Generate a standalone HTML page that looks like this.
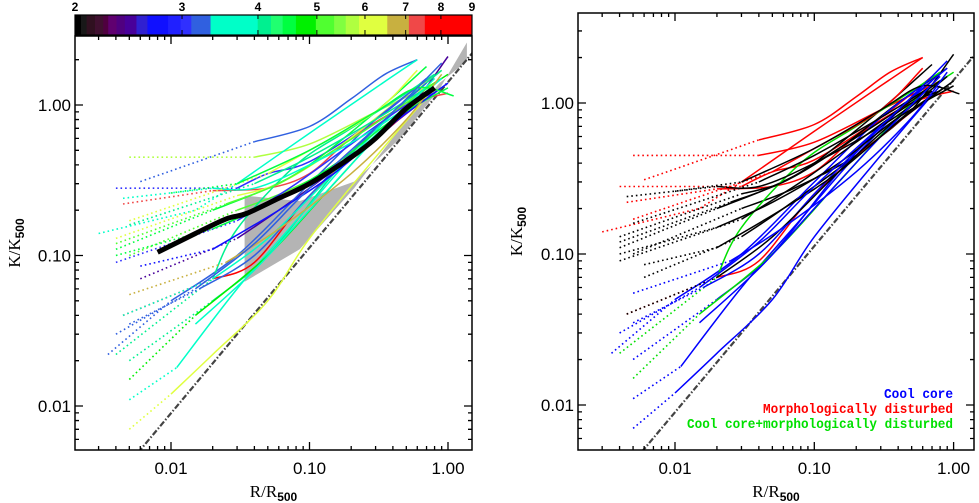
<!DOCTYPE html>
<html><head><meta charset="utf-8">
<style>
html,body{margin:0;padding:0;background:#fff;}
svg{display:block;font-family:"Liberation Sans",sans-serif;}
</style></head>
<body>
<svg id="fig" width="979" height="503" viewBox="0 0 979 503" xmlns="http://www.w3.org/2000/svg">
<defs>
<clipPath id="clipL"><rect x="75" y="36" width="397" height="414"/></clipPath>
<clipPath id="clipR"><rect x="578" y="13" width="396" height="437"/></clipPath>
</defs>
<g id="left"></g>
<g id="right"></g>
</svg>
<script>
// ---- data ----
const profTemps = [3.2,5.8,3.1,7.5,3.5,4.5,6.5,5.0,2.5,8.0,3.2,4.0,6.3,3.9,4.8,4.2,3.3,3.7,3.0,5.3,3.8,6.0,4.1,3.6,4.6,2.8,4.4,7.0,3.2];
const profCats = ['md','md','md','md','md','none','none','none','none','md','cc','cc','cc','cc','ccmd','ccmd','cc','none','none','none','none','md','none','cc','none','none','none','cc','cc'];
const profDotted = [2,2,2,2,3,2,2,2,2,2,2,2,2,2,2,2,2,2,2,2,2,2,2,1,2,2,2,2,2];
const profPoints = [
 [[0.006,0.31],[0.04,0.57],[0.1,0.72],[0.2,1.1],[0.35,1.6],[0.6,2.0]],
 [[0.005,0.45],[0.04,0.45],[0.1,0.55],[0.3,0.9],[0.8,1.4]],
 [[0.004,0.28],[0.03,0.28],[0.05,0.35],[0.1,0.42],[0.3,0.8],[0.7,1.5]],
 [[0.0045,0.22],[0.02,0.27],[0.05,0.28],[0.1,0.35],[0.2,0.6],[0.5,1.0],[1.0,1.2]],
 [[0.003,0.14],[0.015,0.2],[0.03,0.3],[0.1,0.65],[0.3,1.3],[0.6,2.0]],
 [[0.004,0.11],[0.02,0.2],[0.05,0.28],[0.1,0.4],[0.3,0.9],[0.7,1.8]],
 [[0.004,0.13],[0.03,0.25],[0.06,0.3],[0.15,0.5],[0.4,1.0],[0.9,1.7]],
 [[0.005,0.1],[0.03,0.2],[0.07,0.27],[0.2,0.45],[0.5,0.9],[0.9,1.3]],
 [[0.006,0.07],[0.03,0.13],[0.06,0.2],[0.2,0.45],[0.5,0.9],[1.0,2.1]],
 [[0.0045,0.04],[0.02,0.07],[0.04,0.09],[0.1,0.25],[0.3,0.6],[0.6,1.0]],
 [[0.0035,0.022],[0.01,0.05],[0.03,0.1],[0.1,0.3],[0.3,0.8],[0.8,1.6]],
 [[0.005,0.02],[0.02,0.05],[0.05,0.1],[0.15,0.35],[0.4,0.9],[0.9,1.7]],
 [[0.005,0.007],[0.01,0.012],[0.02,0.022],[0.05,0.05],[0.1,0.13],[0.3,0.45],[0.8,1.3]],
 [[0.005,0.011],[0.011,0.018],[0.03,0.06],[0.08,0.17],[0.2,0.45],[0.6,1.3]],
 [[0.005,0.015],[0.015,0.04],[0.05,0.1],[0.15,0.3],[0.5,1.0],[1.0,1.6]],
 [[0.004,0.022],[0.02,0.07],[0.03,0.15],[0.08,0.4],[0.2,0.7],[0.5,1.2],[0.8,1.6]],
 [[0.005,0.035],[0.016,0.06],[0.04,0.1],[0.1,0.25],[0.3,0.7],[0.7,1.4]],
 [[0.0045,0.04],[0.02,0.07],[0.05,0.13],[0.15,0.35],[0.4,0.8],[0.9,1.5]],
 [[0.004,0.09],[0.03,0.17],[0.08,0.3],[0.2,0.55],[0.5,1.0],[0.8,1.2]],
 [[0.004,0.12],[0.025,0.22],[0.06,0.3],[0.15,0.5],[0.4,0.9],[0.8,1.4]],
 [[0.0045,0.24],[0.02,0.28],[0.04,0.28],[0.1,0.4],[0.3,0.7],[0.7,1.2]],
 [[0.005,0.17],[0.05,0.35],[0.1,0.5],[0.3,0.9],[0.6,1.7]],
 [[0.005,0.16],[0.04,0.3],[0.1,0.45],[0.3,0.8],[0.7,1.3]],
 [[0.015,0.035],[0.04,0.08],[0.1,0.2],[0.3,0.6],[0.8,1.5]],
 [[0.004,0.1],[0.02,0.15],[0.05,0.22],[0.15,0.4],[0.4,0.8],[1.0,1.3]],
 [[0.006,0.085],[0.02,0.11],[0.06,0.2],[0.15,0.35],[0.4,0.75],[1.0,1.4]],
 [[0.01,0.26],[0.03,0.3],[0.1,0.5],[0.3,0.9],[0.6,1.3],[1.1,1.15]],
 [[0.005,0.055],[0.025,0.09],[0.06,0.15],[0.2,0.35],[0.5,0.8],[0.9,1.6]],
 [[0.004,0.03],[0.015,0.06],[0.04,0.12],[0.1,0.28],[0.4,0.9],[0.9,1.9]]
];
const meanR = [0.008,0.015,0.025,0.035,0.06,0.1,0.2,0.3,0.5,0.8];
const meanK = [0.105,0.14,0.175,0.19,0.24,0.3,0.45,0.6,0.95,1.3];
const bandR = [0.034,0.085,0.21,0.45,0.87,1.37];
const bandHi = [0.25,0.23,0.31,0.6,1.28,2.6];
const bandLo = [0.067,0.11,0.28,0.7,1.4,1.95];
const cbTickLabels = [2,3,4,5,6,7,8,9];
const cbEdges = [0,18,35,60,85,100,125,150,185,218,280,318,350,408,550,590,625,665,725,780,815,855,940,1005,1053,1195];
const cbColors = ['#000','#181818','#301020','#401030','#500040','#600070','#500080','#48009a','#3020d0','#1010ff','#2020ff','#3030ff','#3060e0','#00ffc8','#00f090','#20ff70','#00ff40','#00f000','#50ff30','#80ff40','#b0ff40','#e0ff40','#c8b040','#f04848','#ff0000'];
const catColors = {cc:'#0000ff', md:'#ff0000', ccmd:'#00e000', none:'#000000'};
const xTickVals = [0.01,0.1,1];
const xTickLabels = ['0.01','0.10','1.00'];
const yTickVals = [0.01,0.1,1];
const yTickLabels = ['0.01','0.10','1.00'];

// ---- helpers ----
const NS='http://www.w3.org/2000/svg';
function mk(parent,tag,attrs){const e=document.createElementNS(NS,tag);for(const k in attrs)e.setAttribute(k,attrs[k]);parent.appendChild(e);return e;}
const L10=Math.log10;
function makeAxes(p){
  p.x=r=>p.x01+(L10(r)+2)*p.dx;
  p.y=k=>p.y1-L10(k)*p.dy;
  return p;
}
function colorOfT(T){
  const f=(L10(T)-L10(2))/(L10(9)-L10(2))*1195;
  for(let i=0;i<cbColors.length;i++){if(f<=cbEdges[i+1])return cbColors[i];}
  return cbColors[cbColors.length-1];
}
function path(ax,pts){return pts.map((p,i)=>(i?'L':'M')+ax.x(p[0]).toFixed(1)+' '+ax.y(p[1]).toFixed(1)).join(' ');}
function smooth(ax,pts){
  const P=pts.map(p=>[ax.x(p[0]),ax.y(p[1])]);
  if(P.length<3)return 'M'+P.map(p=>p[0].toFixed(1)+' '+p[1].toFixed(1)).join(' L');
  let d='M'+P[0][0].toFixed(1)+' '+P[0][1].toFixed(1);
  for(let i=0;i<P.length-1;i++){
    const p0=P[Math.max(0,i-1)],p1=P[i],p2=P[i+1],p3=P[Math.min(P.length-1,i+2)];
    const c1=[p1[0]+(p2[0]-p0[0])/6,p1[1]+(p2[1]-p0[1])/6];
    const c2=[p2[0]-(p3[0]-p1[0])/6,p2[1]-(p3[1]-p1[1])/6];
    d+=` C${c1[0].toFixed(1)} ${c1[1].toFixed(1)} ${c2[0].toFixed(1)} ${c2[1].toFixed(1)} ${p2[0].toFixed(1)} ${p2[1].toFixed(1)}`;
  }
  return d;
}

function drawPanel(g,ax,clip,colorFn,showMean){
  const pg=mk(g,'g',{'clip-path':'url(#'+clip+')'});
  
  
  if(showMean){
    const pts=bandR.map((r,i)=>[r,bandHi[i]]).concat(bandR.map((r,i)=>[r,bandLo[i]]).reverse());
    const b=mk(pg,'path',{d:path(ax,pts)+'Z',fill:'#b4b4b4',stroke:'none'});
    
    
  }
  const br=[0.004,1.5];
  const bl=mk(pg,'path',{d:path(ax,br.map(r=>[r,1.42*Math.pow(r,1.1)])),stroke:'#444',fill:'none','stroke-width':2.2,'stroke-dasharray':'6 2 1.5 2'});
  
  
  profPoints.forEach((pts,i)=>{
    const c=colorFn(i);
    const nd=profDotted[i];
    const dp=pts.slice(0,nd);
    const sp=pts.slice(nd-1);
    if(dp.length>1){
      const d=mk(pg,'path',{d:path(ax,dp),stroke:c,fill:'none','stroke-width':1.6,'stroke-dasharray':'1.6 3'});
      
      
    }
    const s=mk(pg,'path',{d:smooth(ax,sp),stroke:c,fill:'none','stroke-width':1.5});
    
    
  });
  if(showMean){
    const m=mk(pg,'path',{d:smooth(ax,meanR.map((r,i)=>[r,meanK[i]])),stroke:'#000',fill:'none','stroke-width':5,'stroke-linejoin':'round'});
    
    
  }
  const fr=mk(g,'rect',{x:ax.bx0,y:ax.by0,width:ax.bx1-ax.bx0,height:ax.by1-ax.by0,fill:'none',stroke:'#000','stroke-width':1.5});
  
  
  let d='';
  for(let e=-3;e<=0;e++)for(let m=1;m<10;m++){
    const v=m*Math.pow(10,e);const x=ax.x(v);
    if(x<ax.bx0||x>ax.bx1)continue;const len=m==1?8:4;
    d+=`M${x} ${ax.by1}v${-len}M${x} ${ax.by0}v${len}`;
  }
  for(let e=-3;e<=0;e++)for(let m=1;m<10;m++){
    const v=m*Math.pow(10,e);const y=ax.y(v);
    if(y<ax.by0||y>ax.by1)continue;const len=m==1?8:4;
    d+=`M${ax.bx0} ${y}h${len}M${ax.bx1} ${y}h${-len}`;
  }
  const tk=mk(g,'path',{d:d,stroke:'#000','stroke-width':1.3,fill:'none'});
  
  
  xTickVals.forEach((v,i)=>{
    const t=mk(g,'text',{x:ax.x(v),y:474,'text-anchor':'middle','font-size':17});
    t.textContent=xTickLabels[i];
    
    
  });
  yTickVals.forEach((v,i)=>{
    const t=mk(g,'text',{x:ax.bx0-4,y:ax.y(v)+6,'text-anchor':'end','font-size':17});
    t.textContent=yTickLabels[i];
    
    
  });
  const xt=mk(g,'text',{x:(ax.bx0+ax.bx1)/2,y:497,'text-anchor':'middle','font-size':17,'font-family':'Liberation Serif, serif'});
  xt.innerHTML='R/R<tspan font-size="12" dy="4" font-weight="bold" font-family="Liberation Sans, sans-serif">500</tspan>';
  
  
  const cy=(ax.by0+ax.by1)/2;
  const yt=mk(g,'text',{x:ax.ytx,y:cy,'text-anchor':'middle','font-size':17,'font-family':'Liberation Serif, serif',transform:`rotate(-90 ${ax.ytx} ${cy})`});
  yt.innerHTML='K/K<tspan font-size="12" dy="4" font-weight="bold" font-family="Liberation Sans, sans-serif">500</tspan>';
  
  
}

const axL=makeAxes({x01:171,dx:138.5,y1:105,dy:150.5,bx0:75,bx1:472,by0:36,by1:450,ytx:20});
const axR=makeAxes({x01:675,dx:139.3,y1:103,dy:151,bx0:578,bx1:974,by0:13,by1:450,ytx:522});
const gL=document.getElementById('left'), gR=document.getElementById('right');
drawPanel(gL,axL,'clipL',i=>colorOfT(profTemps[i]),true);
drawPanel(gR,axR,'clipR',i=>catColors[profCats[i]],false);

const cb=mk(gL,'g',{});


const cbx=75,cbw=397;
cbColors.forEach((c,i)=>{
  const x0=cbx+cbEdges[i]/1195*cbw, x1=cbx+cbEdges[i+1]/1195*cbw;
  const r=mk(cb,'rect',{x:x0,y:15,width:x1-x0+0.5,height:20,fill:c});
  
  
});
mk(cb,'rect',{x:cbx,y:15,width:cbw,height:20,fill:'none',stroke:'#000','stroke-width':1.2});
cbTickLabels.forEach(T=>{
  const x=cbx+(L10(T)-L10(2))/(L10(9)-L10(2))*cbw;
  mk(cb,'path',{d:`M${x} 35v-5M${x} 15v4`,stroke:'#000','stroke-width':1});
  const t=mk(cb,'text',{x:x,y:11,'text-anchor':'middle','font-size':12,'font-weight':'bold'});
  t.textContent=T;
  
  
});

const legTexts=['Cool core','Morphologically disturbed','Cool core+morphologically disturbed'];
const legColors=['#0000ff','#ff0000','#00e000'];
legTexts.forEach((s,i)=>{
  const t=mk(gR,'text',{x:953,y:398+i*15,'text-anchor':'end','font-size':13.5,'font-family':'Liberation Mono, monospace','font-weight':'bold',fill:legColors[i],textLength:i==2?266:(i==1?190:69),lengthAdjust:'spacingAndGlyphs'});
  t.textContent=s;
  
  
});
</script>
</body></html>
